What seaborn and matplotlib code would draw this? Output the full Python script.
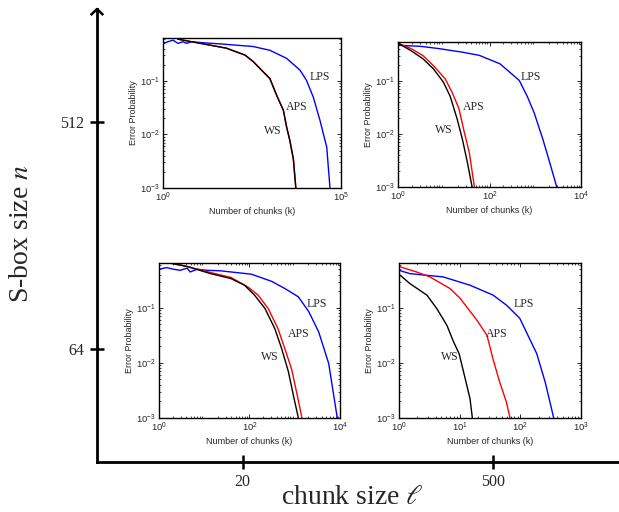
import numpy as np
import pandas as pd
import matplotlib
matplotlib.use("Agg")
import matplotlib.pyplot as plt
from matplotlib.ticker import LogLocator, NullLocator, NullFormatter
import seaborn as sns

sns.set_style("white")
plt.rcParams["font.family"] = ["Liberation Sans", "DejaVu Sans"]
plt.rcParams["mathtext.fontset"] = "stix"

# ---- error probability vs. number of chunks, one panel per (n, l) ----
# n = 512, l = 20
ws_k_512_20 = [2.6, 6.3, 60, 200, 339, 646, 1000, 1549, 2399, 2951, 3631, 4571, 5370]
ws_p_512_20 = [0.60, 0.537, 0.407, 0.302, 0.229, 0.148, 0.110, 0.0537, 0.0282, 0.0138, 0.00776, 0.00347, 0.001]
aps_k_512_20 = [2.6, 6.3, 61, 205, 345, 655, 1015, 1570, 2420, 2980, 3680, 4620, 5420]
aps_p_512_20 = [0.60, 0.537, 0.407, 0.302, 0.229, 0.148, 0.110, 0.0537, 0.0282, 0.0138, 0.00776, 0.00347, 0.001]
lps_k_512_20 = [1, 1.38, 1.91, 2.63, 3.63, 4.57, 6.31, 13.5, 38.9, 339, 1000, 2951, 7079, 10715, 16596, 25704, 39811, 48978]
lps_p_512_20 = [0.50, 0.537, 0.575, 0.50, 0.537, 0.50, 0.537, 0.513, 0.490, 0.437, 0.372, 0.263, 0.158, 0.102, 0.050, 0.0182, 0.00575, 0.001]

# n = 512, l = 500
ws_k_512_500 = [1, 1.91, 3.47, 5.89, 9.77, 13.8, 19.5, 25.7, 33.1, 41.7]
ws_p_512_500 = [0.513, 0.372, 0.263, 0.170, 0.0955, 0.0513, 0.0195, 0.00776, 0.00282, 0.001]
aps_k_512_500 = [1, 1.91, 3.47, 5.89, 10.7, 15.1, 21.4, 27.5, 36.3, 46.8]
aps_p_512_500 = [0.513, 0.407, 0.302, 0.195, 0.110, 0.0617, 0.0302, 0.0117, 0.00437, 0.001]
lps_k_512_500 = [1, 3.16, 7.59, 25.7, 60.3, 170, 447, 676, 955, 1479, 2089, 2951]
lps_p_512_500 = [0.468, 0.447, 0.407, 0.347, 0.302, 0.209, 0.102, 0.050, 0.0245, 0.00776, 0.00282, 0.001]

# n = 64, l = 20
ws_k_64_20 = [1.78, 4.17, 13.8, 38.9, 77.6, 129, 219, 363, 513, 724, 933, 1202]
ws_p_64_20 = [0.646, 0.562, 0.417, 0.339, 0.257, 0.170, 0.0977, 0.0417, 0.0182, 0.00692, 0.00257, 0.001]
aps_k_64_20 = [1.78, 4.17, 13.8, 38.9, 91.2, 155, 257, 427, 603, 851, 1096, 1445]
aps_p_64_20 = [0.646, 0.562, 0.437, 0.355, 0.240, 0.170, 0.0977, 0.0417, 0.0182, 0.00776, 0.00295, 0.001]
lps_k_64_20 = [1, 1.48, 2.09, 2.95, 4.17, 4.90, 6.92, 11.7, 23.4, 110, 309, 603, 1202, 2042, 3388, 5623, 8710]
lps_p_64_20 = [0.50, 0.537, 0.50, 0.479, 0.525, 0.447, 0.50, 0.479, 0.468, 0.407, 0.302, 0.224, 0.158, 0.0851, 0.0363, 0.00977, 0.001]

# n = 64, l = 500
ws_k_64_500 = [1, 1.51, 2.88, 4.17, 6.17, 7.94, 9.77, 12.3, 14.8, 16.2]
ws_p_64_500 = [0.407, 0.275, 0.170, 0.0977, 0.0479, 0.0240, 0.0148, 0.00525, 0.00224, 0.001]
aps_k_64_500 = [1, 1.95, 3.24, 6.92, 10.2, 19.1, 28.2, 35.5, 45.7, 58.9, 67.6]
aps_p_64_500 = [0.562, 0.447, 0.363, 0.224, 0.148, 0.0603, 0.0316, 0.0117, 0.00447, 0.00195, 0.001]
lps_k_64_500 = [1, 1.51, 5.37, 14.8, 35.5, 58.9, 97.7, 186, 257, 355]
lps_p_64_500 = [0.479, 0.417, 0.363, 0.257, 0.170, 0.112, 0.0646, 0.0148, 0.00447, 0.001]

methods = ["LPS", "APS", "WS"]
colors = {"LPS": "#0000ff", "APS": "#ff0000", "WS": "#000000"}

# outer grid: chunk size l (x) and S-box size n (y)
chunk_sizes = ["20", "500"]
sbox_sizes = ["64", "512"]

W, H = 619, 512
fig = plt.figure(figsize=(W / 100, H / 100), dpi=100)


def rect(left, top, right, bottom):
    return [left / W, 1 - bottom / H, (right - left) / W, (bottom - top) / H]


# ---- outer axes with arrows ----
outer = fig.add_axes(rect(97, 9, 639, 462))
outer.set_xlim(0.42, 2.58)
outer.set_ylim(0.5, 2.5)
outer.set_facecolor("none")
for s in ["top", "right"]:
    outer.spines[s].set_visible(False)
for s in ["left", "bottom"]:
    outer.spines[s].set_linewidth(2.0)
    outer.spines[s].set_color("black")
outer.set_xticks([1, 2])
outer.set_xticklabels(chunk_sizes)
outer.set_yticks([1, 2])
outer.set_yticklabels(sbox_sizes)
outer.tick_params(direction="inout", length=10, width=1.8, color="black",
                  labelsize=11.5, pad=4, bottom=True, left=True)
for lab in outer.get_xticklabels() + outer.get_yticklabels():
    lab.set_fontfamily("Liberation Serif")
outer.plot([0.395, 0.42, 0.445], [2.473, 2.5, 2.473], color="black", lw=1.8,
           clip_on=False, solid_capstyle="butt")
outer.plot([2.555, 2.58, 2.555], [0.527, 0.5, 0.473], color="black", lw=1.8,
           clip_on=False)

fig.text(22 / W, 1 - 234 / H, r"S-box size $n$", rotation=90, ha="center",
         va="center", fontsize=20, family="Liberation Serif")
fig.text(352 / W, 1 - 498 / H, r"chunk size $\ell$", ha="center",
         va="center", fontsize=20, family="Liberation Serif")

# ---- inset panels ----
panels = [
    dict(ks=(ws_k_512_20, aps_k_512_20, lps_k_512_20),
         ps=(ws_p_512_20, aps_p_512_20, lps_p_512_20),
         box=rect(163, 38, 341, 188), xlim=(1, 1e5), xticks=[1, 1e5],
         ytop=0.63, minor_x=False,
         labels={"LPS": (25700, 0.118), "APS": (5600, 0.032), "WS": (1200, 0.0118)}),
    dict(ks=(ws_k_512_500, aps_k_512_500, lps_k_512_500),
         ps=(ws_p_512_500, aps_p_512_500, lps_p_512_500),
         box=rect(398, 42, 581, 187), xlim=(1, 1e4), xticks=[1, 1e2, 1e4],
         ytop=0.54, minor_x=True,
         labels={"LPS": (813, 0.118), "APS": (45, 0.032), "WS": (9.8, 0.0118)}),
    dict(ks=(ws_k_64_20, aps_k_64_20, lps_k_64_20),
         ps=(ws_p_64_20, aps_p_64_20, lps_p_64_20),
         box=rect(159, 263, 340, 418), xlim=(1, 1e4), xticks=[1, 1e2, 1e4],
         ytop=0.65, minor_x=True,
         labels={"LPS": (3090, 0.115), "APS": (1200, 0.033), "WS": (282, 0.0129)}),
    dict(ks=(ws_k_64_500, aps_k_64_500, lps_k_64_500),
         ps=(ws_p_64_500, aps_p_64_500, lps_p_64_500),
         box=rect(399, 263, 581, 418), xlim=(1, 1e3), xticks=[1, 1e1, 1e2, 1e3],
         ytop=0.65, minor_x=True,
         labels={"LPS": (112, 0.117), "APS": (41, 0.033), "WS": (6.8, 0.0129)}),
]

for pan in panels:
    ax = fig.add_axes(pan["box"])
    rows = []
    for name, k, p in zip(["WS", "APS", "LPS"], pan["ks"], pan["ps"]):
        rows.append(pd.DataFrame({"k": k, "p": p, "method": name}))
    df = pd.concat(rows, ignore_index=True)
    ax.set_xscale("log")
    ax.set_yscale("log")
    sns.lineplot(data=df, x="k", y="p", hue="method", hue_order=methods,
                 palette=colors, estimator=None, sort=False, lw=1.0,
                 legend=False, ax=ax)
    ax.set_xlim(*pan["xlim"])
    ax.set_ylim(1e-3, pan["ytop"])
    ax.set_xticks(pan["xticks"])
    ax.set_yticks([1e-3, 1e-2, 1e-1])
    if pan["minor_x"]:
        ax.xaxis.set_minor_locator(LogLocator(base=10, subs=np.arange(2, 10)))
    else:
        ax.xaxis.set_minor_locator(NullLocator())
    ax.xaxis.set_minor_formatter(NullFormatter())
    ax.yaxis.set_minor_locator(LogLocator(base=10, subs=np.arange(2, 10)))
    ax.yaxis.set_minor_formatter(NullFormatter())
    ax.tick_params(which="both", direction="in", top=True, right=True,
                   bottom=True, left=True, labelsize=6.8, pad=2, color="black")
    ax.tick_params(which="major", length=3, width=0.6)
    ax.tick_params(which="minor", length=1.6, width=0.5)
    for s in ax.spines.values():
        s.set_linewidth(1.0)
        s.set_color("black")
    ax.set_xlabel("Number of chunks (k)", fontsize=6.5, labelpad=2)
    ax.set_ylabel("Error Probability", fontsize=6.5, labelpad=2)
    for name, (lx, ly) in pan["labels"].items():
        ax.text(lx, ly, name, ha="center", va="center", fontsize=8.5,
                family="Liberation Serif")

fig.savefig("out.png", dpi=100)
